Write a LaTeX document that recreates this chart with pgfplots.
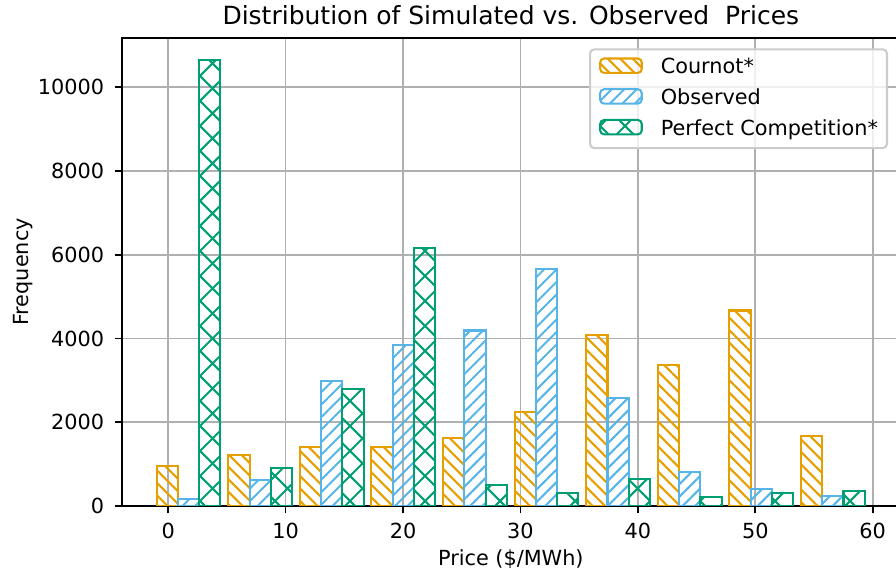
\documentclass[border=0pt]{standalone}
\usepackage{pgfplots}
\pgfplotsset{compat=1.18}
\usepackage{fontspec}
\setmainfont{DejaVu Sans}
\usetikzlibrary{patterns.meta}

\definecolor{corange}{HTML}{E69F00}
\definecolor{cblue}{HTML}{56B4E9}
\definecolor{cgreen}{HTML}{009E73}
\definecolor{gridgray}{HTML}{B0B0B0}

% hatched bar styles (matplotlib-like hatches)
\pgfplotsset{
  cournot/.style={draw=corange, line width=1.04pt, bar shift=0pt,
    pattern={Lines[angle=-45, distance=4.42pt, line width=1.04pt]}, pattern color=corange,
    legend image code/.code={\draw[##1] (0pt,-2.1pt) rectangle (20.8pt,5.1pt);}},
  observed/.style={draw=cblue, line width=1.04pt, bar shift=0pt,
    pattern={Lines[angle=45, distance=4.42pt, line width=1.04pt]}, pattern color=cblue,
    legend image code/.code={\draw[##1] (0pt,-2.1pt) rectangle (20.8pt,5.1pt);}},
  perfect/.style={draw=cgreen, line width=1.04pt, bar shift=0pt,
    pattern={Hatch[angle=45, distance=8.84pt, line width=1.04pt]}, pattern color=cgreen,
    legend image code/.code={\draw[##1] (0pt,-2.1pt) rectangle (20.8pt,5.1pt);}},
}

\begin{document}
\begin{tikzpicture}
\begin{axis}[
  name=ax,
  scale only axis,
  width=388.85pt, height=234pt,
  xmin=-3.94, xmax=62.3, ymin=0, ymax=11175,
  ybar, bar width=1.81,
  xtick={0,10,...,60},
  ytick={0,2000,...,10000},
  scaled y ticks=false,
  /pgf/number format/1000 sep={},
  /pgf/number format/assume math mode=true,
  tick label style={font=\fontsize{10.4}{12}\selectfont},
  xticklabel style={yshift=-1.5pt},
  yticklabel style={xshift=-1.8pt},
  tick align=outside, xtick pos=bottom, ytick pos=left,
  major tick length=3.65pt,
  tick style={black, line width=0.83pt},
  axis line style={black, line width=0.83pt},
  grid=major,
  grid style={gridgray, line width=0.83pt},
  title={Distribution of Simulated vs. Observed\ \ Prices},
  title style={at={([yshift=0.5pt]axis description cs:0.5,1)}, anchor=base,
    font=\fontsize{12.5}{15}\selectfont},
  xlabel={Price (\$/MWh)},
  xlabel style={at={([yshift=-30pt]axis description cs:0.5,0)}, anchor=base,
    font=\fontsize{10.4}{12}\selectfont},
  ylabel={Frequency},
  ylabel style={at={([xshift=-46.5pt]axis description cs:0,0.5)}, anchor=base,
    font=\fontsize{10.4}{12}\selectfont},
  legend cell align=left,
  legend style={at={([xshift=-5.85pt,yshift=-5.2pt]axis description cs:1,1)}, anchor=north east,
    draw=black!20, line width=1.04pt, rounded corners=2pt,
    fill=white, fill opacity=0.8, text opacity=1,
    font=\fontsize{10.4}{12}\selectfont,
    inner xsep=4.5pt, inner ysep=4pt, row sep=4.8pt, column sep=9pt,
    nodes={inner sep=0pt, text height=7.6pt, text depth=2.3pt}},
]
\addplot[cournot] coordinates {
  (-0.08,956) (6.02,1219) (12.12,1418) (18.21,1412) (24.31,1625)
  (30.41,2246) (36.51,4086) (42.61,3377) (48.70,4667) (54.80,1673)};
\addplot[observed] coordinates {
  (1.73,167) (7.83,621) (13.93,2995) (20.02,3839) (26.12,4190)
  (32.22,5655) (38.32,2581) (44.42,812) (50.51,414) (56.61,239)};
\addplot[perfect] coordinates {
  (3.54,10640) (9.64,916) (15.74,2788) (21.83,6165) (27.93,502)
  (34.03,318) (40.13,637) (46.23,223) (52.32,318) (58.42,350)};
\legend{Cournot*, Observed, Perfect Competition*}
\end{axis}
\pgfresetboundingbox
\path[use as bounding box] ([shift={(-61pt,-35pt)}]ax.south west) rectangle ++(448pt,288pt);
\end{tikzpicture}
\end{document}
